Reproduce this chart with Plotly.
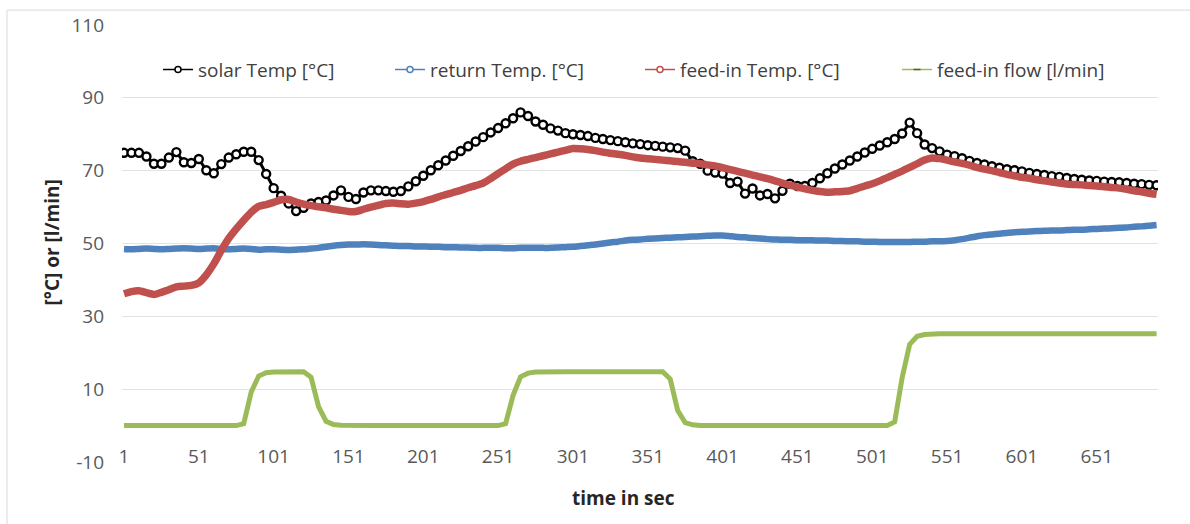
import plotly.graph_objects as go

# ---------------- data (one value every 5 s) ----------------
STEP_SEC = 5

solar_temp = [
    74.9, 74.9, 74.9, 73.9, 71.9, 71.9, 73.6, 75.1, 72.3, 72.1,
    73.2, 70.1, 69.3, 71.8, 73.6, 74.5, 75.2, 75.2, 72.9, 69.1,
    65.2, 63.1, 61.0, 58.9, 59.8, 61.0, 61.4, 61.8, 63.2, 64.6,
    62.8, 62.2, 64.0, 64.6, 64.6, 64.4, 64.2, 64.4, 65.7, 67.1,
    68.6, 70.1, 71.5, 72.8, 74.1, 75.4, 76.7, 78.0, 79.2, 80.5,
    81.7, 83.0, 84.4, 86.0, 85.0, 83.5, 82.6, 81.6, 81.0, 80.3,
    80.0, 79.8, 79.5, 79.0, 78.7, 78.4, 78.1, 77.8, 77.5, 77.3,
    77.0, 76.8, 76.6, 76.4, 76.2, 75.5, 72.6, 71.9, 70.0, 69.5,
    69.2, 66.6, 67.0, 63.7, 65.1, 63.2, 63.6, 62.4, 64.5, 66.4,
    65.8, 65.8, 66.6, 67.9, 69.3, 70.6, 71.7, 72.8, 73.9, 75.0,
    76.0, 76.9, 77.8, 78.7, 80.2, 83.2, 80.3, 77.2, 76.2, 75.3,
    74.4, 74.0, 73.4, 72.7, 72.1, 71.7, 71.2, 70.8, 70.4, 70.1,
    69.8, 69.4, 69.1, 68.8, 68.5, 68.3, 68.0, 67.7, 67.5, 67.3,
    67.2, 67.0, 66.9, 66.8, 66.6, 66.4, 66.3, 66.1, 66.0,
]

return_temp = [
    48.5, 48.4, 48.5, 48.6, 48.5, 48.4, 48.5, 48.6, 48.7, 48.6,
    48.5, 48.6, 48.7, 48.5, 48.4, 48.5, 48.6, 48.5, 48.3, 48.4,
    48.4, 48.3, 48.2, 48.3, 48.4, 48.6, 48.8, 49.1, 49.4, 49.6,
    49.7, 49.7, 49.8, 49.7, 49.6, 49.5, 49.4, 49.3, 49.3, 49.2,
    49.2, 49.1, 49.1, 49.0, 49.0, 48.9, 48.9, 48.8, 48.8, 48.8,
    48.8, 48.7, 48.7, 48.8, 48.8, 48.8, 48.8, 48.8, 48.9, 49.0,
    49.1, 49.3, 49.5, 49.7, 50.0, 50.3, 50.5, 50.8, 51.0, 51.1,
    51.3, 51.4, 51.5, 51.6, 51.7, 51.8, 51.9, 52.0, 52.1, 52.2,
    52.2, 52.0, 51.8, 51.7, 51.5, 51.4, 51.2, 51.1, 51.0, 51.0,
    50.9, 50.9, 50.9, 50.8, 50.8, 50.7, 50.7, 50.6, 50.6, 50.5,
    50.5, 50.4, 50.4, 50.4, 50.4, 50.4, 50.5, 50.5, 50.6, 50.6,
    50.7, 50.9, 51.2, 51.6, 52.0, 52.3, 52.5, 52.7, 52.9, 53.1,
    53.2, 53.3, 53.4, 53.5, 53.6, 53.6, 53.7, 53.8, 53.8, 53.9,
    54.0, 54.1, 54.2, 54.3, 54.4, 54.6, 54.7, 54.9, 55.1,
]

feedin_temp = [
    36.2, 36.8, 37.0, 36.5, 36.0, 36.6, 37.3, 38.1, 38.3, 38.5,
    39.2, 41.4, 44.4, 48.1, 51.4, 54.0, 56.4, 58.6, 60.2, 60.7,
    61.3, 62.0, 62.1, 61.4, 60.8, 60.4, 60.1, 59.8, 59.4, 59.1,
    58.8, 58.8, 59.4, 60.0, 60.5, 61.0, 61.1, 60.9, 60.8, 61.1,
    61.5, 62.1, 62.8, 63.4, 64.0, 64.6, 65.3, 65.9, 66.6, 67.8,
    69.2, 70.5, 71.8, 72.6, 73.1, 73.6, 74.1, 74.6, 75.1, 75.6,
    76.1, 76.0, 75.8, 75.5, 75.1, 74.8, 74.5, 74.2, 73.8, 73.5,
    73.3, 73.1, 72.9, 72.7, 72.5, 72.3, 72.1, 71.9, 71.6, 71.3,
    70.8, 70.3, 69.8, 69.3, 68.8, 68.3, 67.8, 67.2, 66.6, 66.0,
    65.5, 65.0, 64.6, 64.3, 64.1, 64.2, 64.3, 64.5, 65.1, 65.8,
    66.4, 67.2, 68.1, 69.0, 69.9, 70.9, 71.9, 72.9, 73.5, 73.3,
    72.9, 72.4, 72.0, 71.5, 70.9, 70.4, 70.0, 69.5, 69.0, 68.6,
    68.2, 67.9, 67.5, 67.2, 66.9, 66.6, 66.3, 66.2, 66.1, 65.9,
    65.8, 65.6, 65.4, 65.2, 64.9, 64.5, 64.2, 63.8, 63.5,
]

feedin_flow = [
    0, 0, 0, 0, 0, 0, 0, 0, 0, 0,
    0, 0, 0, 0, 0, 0, 0.5, 9.2, 13.6, 14.5,
    14.7, 14.8, 14.8, 14.8, 14.8, 13.3, 5.2, 1.2, 0.3, 0.1,
    0, 0, 0, 0, 0, 0, 0, 0, 0, 0,
    0, 0, 0, 0, 0, 0, 0, 0, 0, 0,
    0, 0.5, 8.3, 13.4, 14.4, 14.7, 14.8, 14.8, 14.8, 14.8,
    14.8, 14.8, 14.8, 14.8, 14.8, 14.8, 14.8, 14.8, 14.8, 14.8,
    14.8, 14.8, 14.8, 12.8, 4.1, 0.8, 0.2, 0, 0, 0,
    0, 0, 0, 0, 0, 0, 0, 0, 0, 0,
    0, 0, 0, 0, 0, 0, 0, 0, 0, 0,
    0, 0, 0, 1.0, 13.2, 22.3, 24.5, 25.0, 25.2, 25.2,
    25.2, 25.2, 25.2, 25.2, 25.2, 25.2, 25.2, 25.2, 25.2, 25.2,
    25.2, 25.2, 25.2, 25.2, 25.2, 25.2, 25.2, 25.2, 25.2, 25.2,
    25.2, 25.2, 25.2, 25.2, 25.2, 25.2, 25.2, 25.2, 25.2,
]

series_names = ["solar Temp [°C]", "return Temp. [°C]", "feed-in Temp. [°C]", "feed-in flow [l/min]"]
x_tick_vals = [1, 51, 101, 151, 201, 251, 301, 351, 401, 451, 501, 551, 601, 651]
x_tick_text = ["1", "51", "101", "151", "201", "251", "301", "351", "401", "451", "501", "551", "601", "651"]
y_tick_vals = [-10, 10, 30, 50, 70, 90, 110]
y_tick_text = ["-10", "10", "30", "50", "70", "90", "110"]
x_title = "time in sec"
y_title = "[°C] or [l/min]"


def seconds(series):
    return list(range(1, 1 + STEP_SEC * len(series), STEP_SEC))


# ---------------- styling ----------------
FONT = "Open Sans"
BLACK = "#000000"
BLUE = "#4F81BD"
RED = "#C0504D"
GREEN = "#9BBB59"

# plot-area geometry in pixels (used to place legend/annotations in paper units)
W, H = 1190, 524
ML, MR, MT, MB = 122, 32, 22, 62
PW, PH = W - ML - MR, H - MT - MB


def px_x(px):
    return (px - ML) / PW


def px_y(py):
    return (H - MB - py) / PH


fig = go.Figure()

# data traces (drawn in Excel series order so later series are on top)
fig.add_trace(go.Scatter(
    x=seconds(solar_temp), y=solar_temp, mode="lines+markers", showlegend=False,
    line=dict(color=BLACK, width=3),
    marker=dict(symbol="circle", size=8, color="white", line=dict(color=BLACK, width=2.4)),
    name=series_names[0], hoverinfo="skip"))
fig.add_trace(go.Scatter(
    x=seconds(return_temp), y=return_temp, mode="lines", showlegend=False,
    line=dict(color=BLUE, width=6.5, shape="spline", smoothing=0.6),
    name=series_names[1], hoverinfo="skip"))
fig.add_trace(go.Scatter(
    x=seconds(feedin_temp), y=feedin_temp, mode="lines", showlegend=False,
    line=dict(color=RED, width=7.5, shape="spline", smoothing=0.6),
    name=series_names[2], hoverinfo="skip"))
fig.add_trace(go.Scatter(
    x=seconds(feedin_flow), y=feedin_flow, mode="lines", showlegend=False,
    line=dict(color=GREEN, width=5),
    name=series_names[3], hoverinfo="skip"))

# legend entries (one legend per entry so each can be placed like the original)
legend_ids = ["legend", "legend2", "legend3", "legend4"]
legend_colors = [BLACK, BLUE, RED, GREEN]
legend_text_start_px = [198, 430, 680, 937]
for name, col, lid in zip(series_names, legend_colors, legend_ids):
    is_flow = col == GREEN
    fig.add_trace(go.Scatter(
        x=[None], y=[None], mode="lines+markers", name=name, legend=lid,
        line=dict(color=col, width=1.5),
        marker=dict(symbol="line-ew" if is_flow else "circle", size=5 if is_flow else 6,
                    color="#4f6228" if is_flow else "white",
                    line=dict(color="#4f6228" if is_flow else col, width=1.5))))

legend_common = dict(orientation="h", yanchor="middle", xanchor="left",
                     bgcolor="rgba(0,0,0,0)", borderwidth=0,
                     font=dict(family=FONT, size=19, color="#404040"))
layout_legends = {}
for lid, tx in zip(legend_ids, legend_text_start_px):
    layout_legends[lid] = dict(x=px_x(tx - 40), y=px_y(67), **legend_common)

fig.update_layout(
    width=W, height=H,
    margin=dict(l=ML, r=MR, t=MT, b=MB, pad=0),
    paper_bgcolor="white", plot_bgcolor="white",
    font=dict(family=FONT, size=19, color="#595959"),
    showlegend=True,
    **layout_legends,
    xaxis=dict(
        range=[-0.336, 691.95], showgrid=False, zeroline=False,
        showline=True, linecolor="white", linewidth=1,
        tickmode="array", tickvals=x_tick_vals, ticktext=x_tick_text,
        ticks="", ticklabelstandoff=-23,
        tickfont=dict(family=FONT, size=19, color="#595959"),
    ),
    yaxis=dict(
        range=[-10, 110], showgrid=True, gridcolor="#e3e3e3", gridwidth=1,
        zeroline=False, showline=False,
        tickmode="array", tickvals=y_tick_vals, ticktext=y_tick_text,
        ticks="", ticklabelstandoff=17,
        tickfont=dict(family=FONT, size=19, color="#595959"),
    ),
    annotations=[
        dict(text=f"<b>{x_title}</b>", xref="paper", yref="paper",
             x=px_x(623), y=px_y(498), xanchor="center", yanchor="middle",
             showarrow=False, font=dict(family=FONT, size=19, color="#262626")),
        dict(text=f"<b>{y_title}</b>", xref="paper", yref="paper",
             x=px_x(52), y=px_y(241), xanchor="center", yanchor="middle", textangle=-90,
             showarrow=False, font=dict(family=FONT, size=19, color="#262626")),
    ],
    shapes=[
        dict(type="rect", xref="paper", yref="paper",
             x0=px_x(7), x1=px_x(1300), y0=px_y(700), y1=px_y(7),
             line=dict(color="#d9d9d9", width=1), fillcolor="rgba(0,0,0,0)", layer="below"),
    ],
)

fig.write_html("out.html")
